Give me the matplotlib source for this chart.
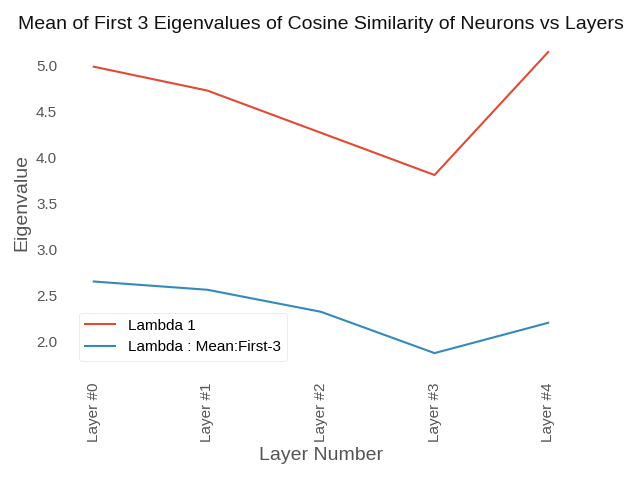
import numpy as np
import matplotlib.pyplot as plt

plt.style.use("ggplot")
plt.rcParams["font.family"] = ["Liberation Sans", "DejaVu Sans"]
plt.rcParams["axes.facecolor"] = "white"
plt.rcParams["axes.grid"] = False

layers = ["Layer #0", "Layer #1", "Layer #2", "Layer #3", "Layer #4"]
lambda_1 = [4.99, 4.73, 4.27, 3.81, 5.15]
lambda_mean3 = [2.65, 2.56, 2.32, 1.87, 2.20]

fig, ax = plt.subplots(figsize=(6.4, 4.8), dpi=100)
x = np.arange(len(layers))
ax.plot(x, lambda_1, label="Lambda 1")
ax.plot(x, lambda_mean3, label="Lambda : Mean:First-3")

ax.set_xticks(x)
ax.set_xticklabels(layers, rotation=90)
ax.tick_params(length=0, labelsize=11, pad=10)
ax.set_title("Mean of First 3 Eigenvalues of Cosine Similarity of Neurons vs Layers",
             color="#111111", fontsize=14)
ax.set_xlabel("Layer Number", fontsize=14, labelpad=4)
ax.set_ylabel("Eigenvalue", fontsize=14)
for s in ax.spines.values():
    s.set_visible(False)
ax.legend(loc="lower left", facecolor="white", edgecolor="#dddddd", fontsize=11)

fig.subplots_adjust(left=0.111, right=0.892, top=0.923, bottom=0.233)
fig.savefig("out.png")
